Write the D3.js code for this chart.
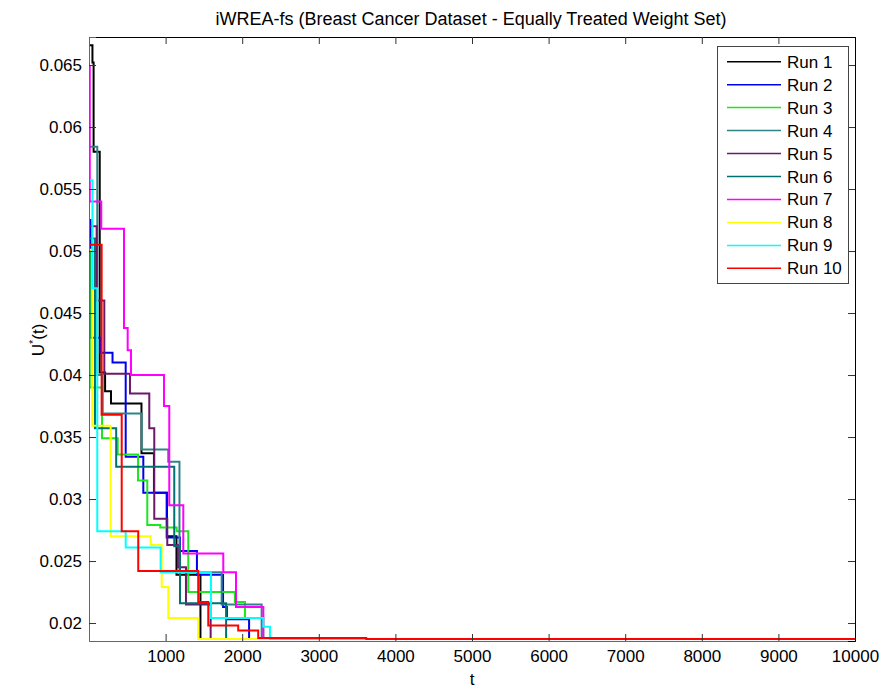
<!DOCTYPE html>
<html>
<head>
<meta charset="utf-8">
<script src="https://cdn.jsdelivr.net/npm/d3@7"></script>
<style>
  body { margin: 0; background: #fff; }
  text { font-family: "Liberation Sans", Arial, sans-serif; }
</style>
</head>
<body>
<svg width="884" height="690"></svg>
<script>
// step points for each run (t = iteration, u = U*(t))
const t1 = [0, 45, 60, 140, 210, 287, 685, 848, 1018, 1142, 1455, 10000];
const u1 = [0.0666, 0.0652, 0.0580, 0.0402, 0.0387, 0.0377, 0.0337, 0.0305, 0.0270, 0.0239, 0.01872, 0.01872];
const t2 = [0, 20, 144, 307, 479, 709, 1014, 1188, 1409, 1750, 1800, 2090, 10000];
const u2 = [0.0525, 0.0430, 0.0418, 0.0410, 0.0334, 0.0305, 0.0269, 0.0258, 0.0239, 0.0213, 0.0203, 0.01872, 0.01872];
const t3 = [0, 10, 170, 375, 640, 761, 930, 1145, 1296, 1905, 2036, 2275, 10000];
const u3 = [0.0500, 0.0390, 0.0349, 0.0336, 0.0315, 0.0279, 0.0277, 0.0274, 0.0225, 0.0217, 0.0204, 0.01872, 0.01872];
const t4 = [0, 108, 179, 688, 1035, 1181, 1732, 2254, 10000];
const u4 = [0.0584, 0.0400, 0.0369, 0.0340, 0.0330, 0.0241, 0.0215, 0.01872, 0.01872];
const t5 = [0, 100, 200, 535, 787, 852, 1022, 1160, 1266, 1588, 10000];
const u5 = [0.0520, 0.0460, 0.0401, 0.0385, 0.0357, 0.0284, 0.0263, 0.0245, 0.0215, 0.01872, 0.01872];
const t6 = [0, 78, 355, 1113, 1188, 1790, 10000];
const u6 = [0.0510, 0.0357, 0.0326, 0.0262, 0.0216, 0.01872, 0.01872];
const t7 = [0, 10, 160, 457, 505, 548, 979, 1048, 1231, 1753, 1919, 2276, 10000];
const u7 = [0.0649, 0.0540, 0.0518, 0.0438, 0.0420, 0.0400, 0.0375, 0.0295, 0.0256, 0.0241, 0.0213, 0.01872, 0.01872];
const t8 = [0, 43, 283, 805, 949, 1035, 1426, 10000];
const u8 = [0.0501, 0.0359, 0.0270, 0.0263, 0.0229, 0.0204, 0.01872, 0.01872];
const t9 = [0, 45, 108, 479, 935, 1592, 2275, 2362, 10000];
const u9 = [0.0557, 0.0470, 0.0274, 0.0261, 0.0241, 0.0204, 0.0197, 0.01872, 0.01872];
const t10 = [0, 165, 427, 643, 1426, 1557, 1948, 2209, 3620, 10000];
const u10 = [0.0505, 0.0368, 0.0274, 0.0242, 0.0217, 0.0198, 0.0194, 0.01880, 0.01872, 0.01872];

const runNames = ["Run 1", "Run 2", "Run 3", "Run 4", "Run 5", "Run 6", "Run 7", "Run 8", "Run 9", "Run 10"];
const colors = ["#000000", "#0000ee", "#1fe51f", "#2f8585", "#6b1a6b", "#007070", "#ff00ff", "#ffff00", "#00ffff", "#ff0000"];
const xTicks = [1000, 2000, 3000, 4000, 5000, 6000, 7000, 8000, 9000, 10000];
const yTicks = [0.02, 0.025, 0.03, 0.035, 0.04, 0.045, 0.05, 0.055, 0.06, 0.065];
const yTickLabels = ["0.02", "0.025", "0.03", "0.035", "0.04", "0.045", "0.05", "0.055", "0.06", "0.065"];

const allT = [t1, t2, t3, t4, t5, t6, t7, t8, t9, t10];
const allU = [u1, u2, u3, u4, u5, u6, u7, u8, u9, u10];
const runs = runNames.map((name, i) => ({
  name: name,
  color: colors[i],
  pts: allT[i].map((t, j) => ({t: t, u: allU[i][j]}))
}));

const svg = d3.select("svg");
const pl = 89, pr = 855, pt = 37, pb = 641;
const fs = "17px";

const x = d3.scaleLinear().domain([0, 10000]).range([pl, pr]);
const y = d3.scaleLinear().domain([0.01855, 0.06726]).range([pb, pt]);

svg.append("clipPath").attr("id", "plotclip")
  .append("rect").attr("x", pl).attr("y", pt)
  .attr("width", pr - pl).attr("height", pb - pt);

const line = d3.line()
  .curve(d3.curveStepAfter)
  .x(d => x(d.t))
  .y(d => y(d.u));

const plot = svg.append("g").attr("clip-path", "url(#plotclip)");
plot.selectAll("path").data(runs).enter().append("path")
  .attr("d", d => line(d.pts))
  .attr("fill", "none")
  .attr("stroke", d => d.color)
  .attr("stroke-width", 2);

// axes, MATLAB style: ticks inside on all four sides
const fmtY = (d, i) => yTickLabels[i];
const xBottom = d3.axisBottom(x).tickValues(xTicks).tickSize(-7).tickPadding(9).tickFormat(d3.format("d"));
const xTop = d3.axisTop(x).tickValues(xTicks).tickSize(-7).tickFormat("");
const yLeft = d3.axisLeft(y).tickValues(yTicks).tickSize(-7).tickPadding(7).tickFormat(fmtY);
const yRight = d3.axisRight(y).tickValues(yTicks).tickSize(-7).tickFormat("");

function style(g, col) {
  g.select(".domain").attr("stroke", col);
  g.selectAll(".tick line").attr("stroke", "#333");
  g.selectAll(".tick text").attr("fill", "#000").style("font-size", fs)
    .style("font-family", "'Liberation Sans', Arial, sans-serif");
}

svg.append("g").attr("transform", `translate(0,${pb})`).call(xBottom).call(g => style(g, "#666"));
svg.append("g").attr("transform", `translate(0,${pt})`).call(xTop).call(g => style(g, "#000"));
svg.append("g").attr("transform", `translate(${pl},0)`).call(yLeft).call(g => style(g, "#666"));
svg.append("g").attr("transform", `translate(${pr},0)`).call(yRight).call(g => style(g, "#000"));

// title and axis labels
svg.append("text")
  .attr("x", (pl + pr) / 2 - 1).attr("y", 25)
  .attr("text-anchor", "middle").style("font-size", "18px")
  .text("iWREA-fs (Breast Cancer Dataset - Equally Treated Weight Set)");

svg.append("text")
  .attr("x", (pl + pr) / 2).attr("y", 685)
  .attr("text-anchor", "middle").style("font-size", fs)
  .text("t");

const yl = svg.append("text")
  .attr("transform", "translate(44,340) rotate(-90)")
  .attr("text-anchor", "middle").style("font-size", fs);
yl.append("tspan").text("U");
yl.append("tspan").attr("dy", -7).style("font-size", "11px").text("*");
yl.append("tspan").attr("dy", 7).text("(t)");

// legend
const lg = svg.append("g");
lg.append("rect")
  .attr("x", 717.5).attr("y", 46.5).attr("width", 131).attr("height", 237)
  .attr("fill", "#fff").attr("stroke", "#444").attr("stroke-width", 1);
const rows = lg.selectAll("g.row").data(runs).enter().append("g")
  .attr("class", "row")
  .attr("transform", (d, i) => `translate(0,${61.7 + i * 22.96})`);
rows.append("line")
  .attr("x1", 727).attr("x2", 781).attr("y1", 0).attr("y2", 0)
  .attr("stroke", d => d.color).attr("stroke-width", 1.5);
rows.append("text")
  .attr("x", 787).attr("y", 6).style("font-size", fs)
  .text(d => d.name);
</script>
</body>
</html>
